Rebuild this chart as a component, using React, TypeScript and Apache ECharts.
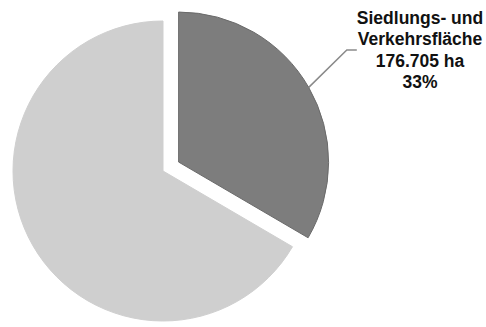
import React, { useEffect, useRef } from "react";
import * as echarts from "echarts";

const categories = ["Siedlungs- und\nVerkehrsfläche", "Sonstige Fläche"];
const values = [176705, 352000];
const colors = ["#7d7d7d", "#cfcfcf"];
const borderColors = ["#6a6a6a", "#cfcfcf"];
const exploded = [true, false];
const unit = "ha";

function fmtDe(n: number): string {
  return String(Math.round(n)).replace(/\B(?=(\d{3})+(?!\d))/g, ".");
}

export default function App() {
  const ref = useRef<HTMLDivElement>(null);
  useEffect(() => {
    document.body.style.margin = "0";
    if (!ref.current) return;
    const chart = echarts.init(ref.current, null, { renderer: "svg" });
    const total = values.reduce((a, b) => a + b, 0);
    const baseCenter = [163, 171];
    const offset = 18;
    // mid angle of the exploded slice (clockwise from 12 o'clock)
    let acc = 0;
    let mid = 0;
    values.forEach((v, i) => {
      if (exploded[i]) mid = ((acc + v / 2) / total) * Math.PI * 2;
      acc += v;
    });
    const expCenter = [baseCenter[0] + offset * Math.sin(mid), baseCenter[1] - offset * Math.cos(mid)];

    const makeData = (showExploded: boolean) =>
      categories.map((name, i) => {
        const visible = exploded[i] === showExploded;
        return {
          name,
          value: values[i],
          itemStyle: visible
            ? { color: colors[i], borderColor: borderColors[i], borderWidth: 1 }
            : { color: "rgba(0,0,0,0)", borderWidth: 0 },
          label: { show: visible && exploded[i] },
          labelLine: { show: visible && exploded[i] },
        };
      });

    const common = {
      type: "pie",
      radius: 150,
      startAngle: 90,
      clockwise: true,
      silent: true,
      avoidLabelOverlap: false,
      emphasis: { disabled: true },
      label: {
        position: "outside",
        formatter: (p: any) => `${p.name}\n${fmtDe(p.value)} ${unit}\n${Math.round(p.percent)}%`,
        fontFamily: "Liberation Sans, Arial, sans-serif",
        fontWeight: "bold",
        fontSize: 17.5,
        lineHeight: 21.5,
        color: "#111111",
        align: "center",
      },
      labelLine: {
        length: 20,
        length2: 10,
        lineStyle: { color: "#8a8a8a", width: 1.5 },
      },
    };

    chart.setOption({
      animation: false,
      backgroundColor: "#ffffff",
      series: [
        { ...common, center: baseCenter, data: makeData(false) },
        {
          ...common,
          center: expCenter,
          data: makeData(true),
          labelLayout: (params: any) => {
            if (!exploded[params.dataIndex]) return {};
            return { x: 420, y: 50, align: "center", verticalAlign: "middle" };
          },
        },
      ],
    });
    return () => chart.dispose();
  }, []);
  return <div ref={ref} style={{ width: 486, height: 327 }} />;
}
